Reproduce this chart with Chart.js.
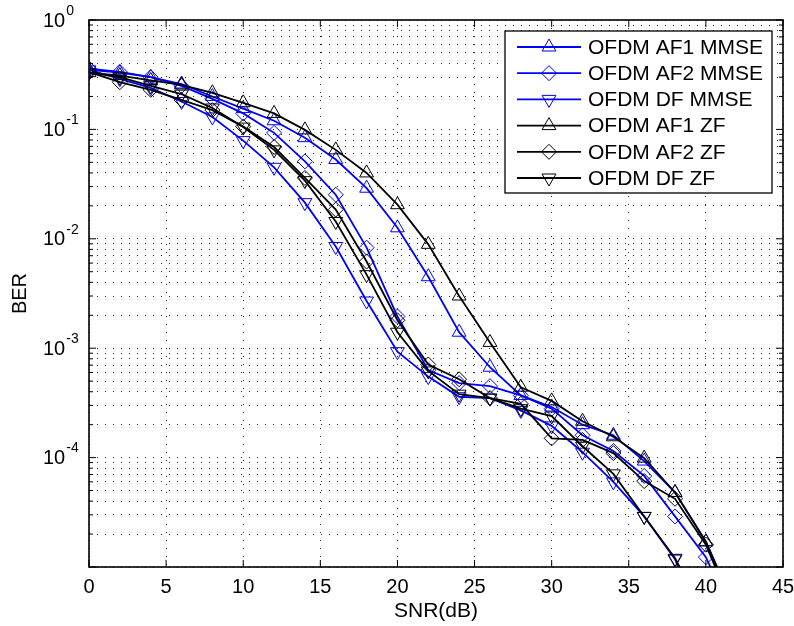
<!DOCTYPE html>
<html>
<head>
<meta charset="utf-8">
<script src="https://cdn.jsdelivr.net/npm/chart.js@4.4.0/dist/chart.umd.min.js"></script>
<style>
  body { margin: 0; background: #fff; }
  #wrap { width: 794px; height: 626px; }
</style>
</head>
<body>
<div id="wrap"><canvas id="myChart" width="794" height="626"></canvas></div>
<script>
// SNR points (dB) and BER curves
var snr = [0, 2, 4, 6, 8, 10, 12, 14, 16, 18, 20, 22, 24, 26, 28, 30, 32, 34, 36, 38, 40, 42];

var af1Mmse = [0.35, 0.33, 0.30, 0.26, 0.20, 0.155, 0.12, 0.084, 0.053, 0.029, 0.0126, 0.0045, 0.0014, 6.7e-4, 3.7e-4, 2.9e-4, 2.0e-4, 1.6e-4, 9.3e-5, 4.8e-5, 1.7e-5, 4e-6];
var af2Mmse = [0.36, 0.335, 0.30, 0.25, 0.19, 0.14, 0.093, 0.051, 0.0253, 0.0083, 0.00195, 6.3e-4, 4.8e-4, 4.5e-4, 3.7e-4, 2.8e-4, 1.6e-4, 1.15e-4, 6.8e-5, 2.9e-5, 1.23e-5, 3e-6];
var dfMmse  = [0.35, 0.29, 0.24, 0.18, 0.13, 0.079, 0.045, 0.0214, 0.0085, 0.0027, 9.3e-4, 5.5e-4, 3.6e-4, 3.5e-4, 2.7e-4, 1.95e-4, 1.12e-4, 6.0e-5, 2.9e-5, 1.18e-5, 2.3e-6, null];
var af1Zf   = [0.33, 0.31, 0.28, 0.255, 0.216, 0.175, 0.14, 0.099, 0.065, 0.040, 0.0205, 0.0089, 0.0030, 0.00113, 4.4e-4, 3.3e-4, 2.15e-4, 1.55e-4, 9.9e-5, 4.8e-5, 1.7e-5, 3.7e-6];
var af2Zf   = [0.335, 0.27, 0.23, 0.186, 0.15, 0.106, 0.069, 0.036, 0.0185, 0.0062, 0.0018, 7.1e-4, 5.2e-4, 3.5e-4, 3.1e-4, 1.5e-4, 1.45e-4, 1.1e-4, 6.1e-5, 4.2e-5, 1.6e-5, 3.4e-6];
var dfZf    = [0.33, 0.30, 0.25, 0.21, 0.157, 0.105, 0.065, 0.034, 0.0144, 0.0047, 0.0014, 6.2e-4, 3.8e-4, 3.5e-4, 2.8e-4, 2.4e-4, 1.27e-4, 7.1e-5, 2.9e-5, 1.2e-5, 3.5e-6, null];

var seriesNames = ['OFDM AF1 MMSE', 'OFDM AF2 MMSE', 'OFDM DF MMSE', 'OFDM AF1 ZF', 'OFDM AF2 ZF', 'OFDM DF ZF'];
var seriesData = [af1Mmse, af2Mmse, dfMmse, af1Zf, af2Zf, dfZf];
var seriesColors = ['#0000ff', '#0000ff', '#0000ff', '#000000', '#000000', '#000000'];
var seriesMarkers = ['triangle', 'rectRot', 'triangle', 'triangle', 'rectRot', 'triangle'];
var seriesRotation = [0, 0, 180, 0, 0, 180];

// axis ticks
var xTicks = [0, 5, 10, 15, 20, 25, 30, 35, 40, 45];
var yDecades = [1e-5, 1e-4, 1e-3, 1e-2, 1e-1, 1];
var yDecadeLabels = ['', '-4', '-3', '-2', '-1', '0'];
var yTickValues = [];
yDecades.forEach(function(d, i) {
    for (var k = 1; k <= 9; k++) {
        if (i == yDecades.length - 1 && k > 1) break;
        yTickValues.push(d * k);
    }
});

var FONT = '"Liberation Sans", Arial, Helvetica, sans-serif';

var datasets = seriesNames.map(function(name, i) {
    return {
        label: name,
        data: snr.map(function(x, j) { return { x: x, y: seriesData[i][j] }; }),
        borderColor: seriesColors[i],
        backgroundColor: 'rgba(0,0,0,0)',
        borderWidth: 1.8,
        pointStyle: seriesMarkers[i],
        pointRotation: seriesRotation[i],
        pointRadius: seriesMarkers[i] == 'rectRot' ? 7.5 : 8,
        pointBorderWidth: 1,
        pointBorderColor: seriesColors[i],
        pointBackgroundColor: 'rgba(0,0,0,0)',
        tension: 0,
        spanGaps: false,
        order: 6 - i
    };
});

// frame, inward ticks, y labels with exponents, legend box
var matlabLook = {
    id: 'matlabLook',
    afterDraw: function(chart) {
        var ctx = chart.ctx;
        var a = chart.chartArea;
        var xs = chart.scales.x, ys = chart.scales.y;
        ctx.save();
        ctx.strokeStyle = '#000';
        ctx.lineWidth = 1.6;
        ctx.strokeRect(a.left, a.top, a.right - a.left, a.bottom - a.top);
        ctx.lineWidth = 1;
        ctx.beginPath();
        xTicks.forEach(function(v) {
            var px = xs.getPixelForValue(v);
            ctx.moveTo(px, a.bottom); ctx.lineTo(px, a.bottom - 7);
            ctx.moveTo(px, a.top); ctx.lineTo(px, a.top + 7);
        });
        yTickValues.forEach(function(v) {
            var py = ys.getPixelForValue(v);
            var len = yDecades.indexOf(v) >= 0 ? 7 : 4;
            ctx.moveTo(a.left, py); ctx.lineTo(a.left + len, py);
            ctx.moveTo(a.right, py); ctx.lineTo(a.right - len, py);
        });
        ctx.stroke();

        // y tick labels 10^n
        ctx.fillStyle = '#000';
        ctx.textAlign = 'left';
        ctx.textBaseline = 'middle';
        yDecades.forEach(function(v, i) {
            if (!yDecadeLabels[i]) return;
            var py = ys.getPixelForValue(v);
            ctx.font = '20px ' + FONT;
            ctx.fillText('10', 43, py + 1);
            var w = ctx.measureText('10').width;
            ctx.font = '14px ' + FONT;
            ctx.fillText(yDecadeLabels[i], 43 + w + 1, py - 9);
        });

        // legend
        var bx = 505, by = 31, bw = 267, bh = 162;
        ctx.fillStyle = '#fff';
        ctx.fillRect(bx, by, bw, bh);
        ctx.lineWidth = 1.3;
        ctx.strokeStyle = '#000';
        ctx.strokeRect(bx, by, bw, bh);
        seriesNames.forEach(function(name, i) {
            var yy = by + 16 + i * 26.2;
            ctx.strokeStyle = seriesColors[i];
            ctx.lineWidth = 1.8;
            ctx.beginPath();
            ctx.moveTo(517, yy); ctx.lineTo(581, yy);
            ctx.stroke();
            ctx.lineWidth = 1;
            ctx.fillStyle = 'rgba(0,0,0,0)';
            Chart.helpers.drawPoint(ctx, {
                pointStyle: seriesMarkers[i],
                rotation: seriesRotation[i],
                radius: seriesMarkers[i] == 'rectRot' ? 7.5 : 8,
                borderWidth: 1
            }, 549, yy);
            ctx.fillStyle = '#000';
            ctx.font = '21px ' + FONT;
            ctx.textBaseline = 'middle';
            ctx.fillText(name, 588, yy + 1);
        });
        ctx.restore();
    }
};

var ctx = document.getElementById('myChart');
var myChart = new Chart(ctx, {
    type: 'line',
    data: { datasets: datasets },
    options: {
        responsive: false,
        animation: false,
        layout: { autoPadding: false, padding: { top: 20, right: 11, left: 0, bottom: 0 } },
        plugins: {
            legend: { display: false },
            tooltip: { enabled: false }
        },
        scales: {
            x: {
                type: 'linear',
                min: 0,
                max: 45,
                ticks: {
                    stepSize: 5,
                    color: '#000',
                    font: { family: FONT, size: 20 },
                    padding: 8,
                    maxRotation: 0
                },
                afterBuildTicks: function(scale) {
                    scale.ticks = xTicks.map(function(v) { return { value: v }; });
                },
                afterFit: function(scale) {
                    scale.height = 59;
                    scale.paddingLeft = 0;
                    scale.paddingRight = 0;
                },
                grid: { color: 'rgba(0,0,0,0.85)', lineWidth: 1, drawTicks: false },
                border: { display: false, dash: [1, 7] },
                title: {
                    display: true,
                    text: 'SNR(dB)',
                    color: '#000',
                    font: { family: FONT, size: 21 },
                    padding: { top: 0, bottom: 2 }
                }
            },
            y: {
                type: 'logarithmic',
                min: 1e-5,
                max: 1,
                ticks: { display: false },
                afterBuildTicks: function(scale) {
                    scale.ticks = yTickValues.map(function(v) { return { value: v, major: yDecades.indexOf(v) >= 0 }; });
                },
                afterFit: function(scale) {
                    scale.width = 89;
                    scale.paddingTop = 0;
                    scale.paddingBottom = 0;
                },
                grid: { color: 'rgba(0,0,0,0.85)', lineWidth: 1, drawTicks: false },
                border: { display: false, dash: [1, 7] },
                title: {
                    display: true,
                    text: 'BER',
                    color: '#000',
                    font: { family: FONT, size: 20 },
                    padding: { top: 8, bottom: 0 }
                }
            }
        }
    },
    plugins: [matlabLook]
});
</script>
</body>
</html>
